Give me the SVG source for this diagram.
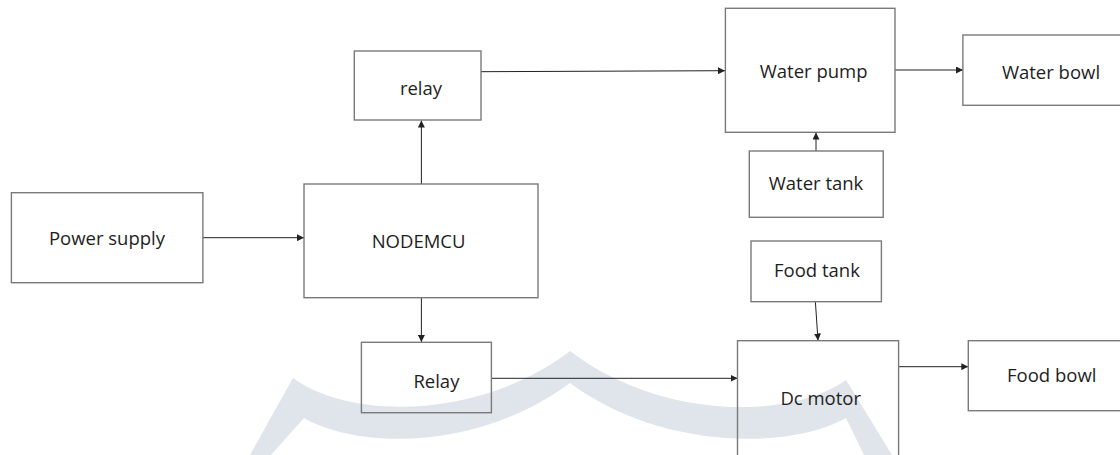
<svg xmlns="http://www.w3.org/2000/svg" width="1120" height="455" viewBox="0 0 1120 455">
<defs>
<style>
.box{fill:none;stroke:#7a7a7a;stroke-width:1.4}
.lbl{font-family:"Open Sans","Liberation Sans",sans-serif;font-size:18.5px;fill:#1e1e1e;text-anchor:middle}
.con{stroke:#222;stroke-width:1;fill:none;marker-end:url(#ah)}
</style>
<marker id="ah" viewBox="0 0 10 10" refX="10" refY="5" markerWidth="7" markerHeight="7" markerUnits="userSpaceOnUse" orient="auto">
<path d="M0,0 L10,5 L0,10 Z" fill="#222"/>
</marker>
</defs>
<rect width="1120" height="455" fill="#fff"/>
<path id="watermark" d="M250,455 L293,378 C350,420 480,420 570,351 C660,420 790,420 846,380 L892,455 L864,455 L846,418 C790,450 660,450 570,383 C480,450 360,450 304,418 L271,455 Z" fill="#dfe5ea"/>
<g id="connectors">
<line class="con" x1="203" y1="237.7" x2="304" y2="237.7"/>
<line class="con" x1="421.4" y1="184" x2="421.4" y2="120.5"/>
<line class="con" x1="421.4" y1="297.7" x2="421.4" y2="342"/>
<line class="con" x1="481" y1="71.7" x2="725" y2="70.7"/>
<line class="con" x1="895" y1="70" x2="963" y2="70"/>
<line class="con" x1="816" y1="151" x2="816" y2="132.6"/>
<line class="con" x1="815.4" y1="302" x2="818" y2="340.5"/>
<line class="con" x1="491.4" y1="378.3" x2="737.5" y2="378.3"/>
<line class="con" x1="898.6" y1="366.7" x2="968.3" y2="366.7"/>
</g>
<g id="power-supply"><rect class="box" x="11.4" y="192.7" width="191.5" height="90"/><text class="lbl" x="107" y="245">Power supply</text></g>
<g id="nodemcu"><rect class="box" x="304" y="184" width="234" height="113.7"/><text class="lbl" x="418.6" y="247.7">NODEMCU</text></g>
<g id="relay-top"><rect class="box" x="354.3" y="51" width="126.7" height="69"/><text class="lbl" x="421" y="95">relay</text></g>
<g id="relay-bottom"><rect class="box" x="361.4" y="342.3" width="130" height="70.4"/><text class="lbl" x="436.4" y="387.7">Relay</text></g>
<g id="water-pump"><rect class="box" x="725.4" y="8.3" width="169.6" height="124"/><text class="lbl" x="813.6" y="78.3">Water pump</text></g>
<g id="water-bowl"><rect class="box" x="962.9" y="35" width="170" height="70.3"/><text class="lbl" x="1051" y="79">Water bowl</text></g>
<g id="water-tank"><rect class="box" x="749.3" y="151" width="133.9" height="66.3"/><text class="lbl" x="816" y="190">Water tank</text></g>
<g id="food-tank"><rect class="box" x="751" y="241" width="130.4" height="60.7"/><text class="lbl" x="817" y="276.7">Food tank</text></g>
<g id="dc-motor"><rect class="box" x="737.5" y="340.7" width="161.1" height="130"/><text class="lbl" x="820.7" y="405">Dc motor</text></g>
<g id="food-bowl"><rect class="box" x="968.3" y="340.7" width="165" height="70"/><text class="lbl" x="1051.7" y="382">Food bowl</text></g>
</svg>
